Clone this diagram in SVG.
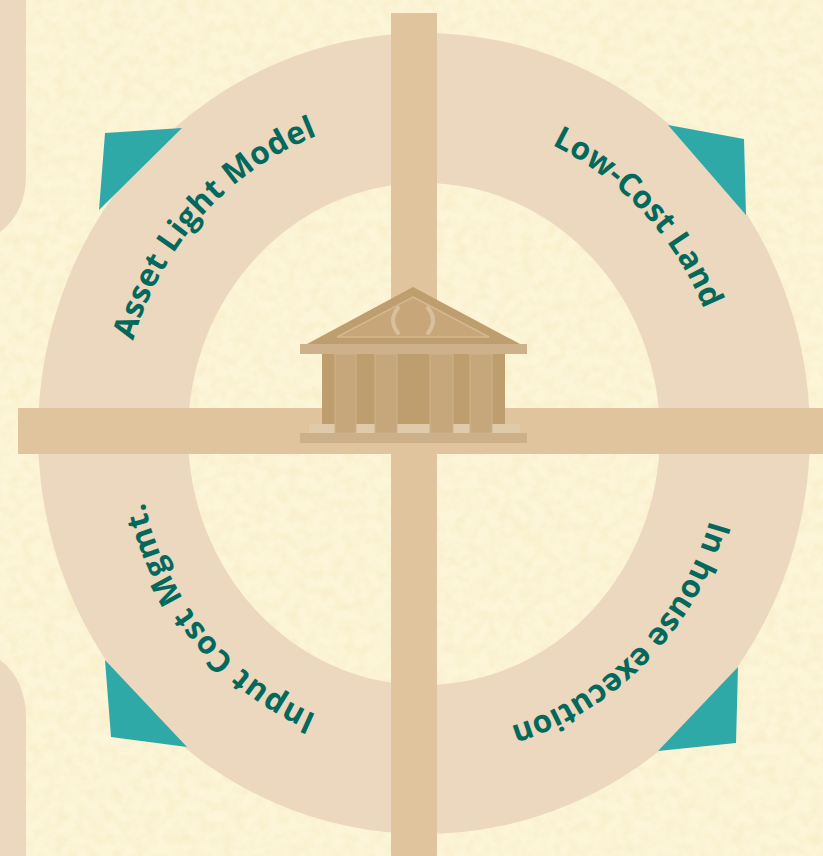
<svg xmlns="http://www.w3.org/2000/svg" width="823" height="856" viewBox="0 0 823 856">
<style>
.lbl{font-family:"Open Sans","Noto Sans","Liberation Sans",sans-serif;font-weight:700;font-size:31.5px;fill:#03695d}
.bar{fill:#e0c49d}
.tri{fill:#2fa9a8}
.blk{fill:#ecd8be}
.col{fill:#c6a67b}
.wall{fill:#be9d6e}
.light{fill:#cdb18b}
.step{fill:#dfcaa9}
</style>
<defs>
<filter id="paper" x="0" y="0" width="100%" height="100%" color-interpolation-filters="sRGB">
<feTurbulence type="fractalNoise" baseFrequency="0.09" numOctaves="4" seed="7"/>
<feColorMatrix type="matrix" values="0 0 0 0 0.97  0 0 0 0 0.92  0 0 0 0 0.76  1.2 0 0 0 -0.42"/>
</filter>
<path id="arcTL" d="M 120 433.5 A 304 318 0 0 1 424 115.5"/>
<path id="arcTR" d="M 424 115.5 A 304 318 0 0 1 728 433.5"/>
<path id="arcBR" d="M 722 433.5 A 298 306 0 0 1 424 739.5"/>
<path id="arcBL" d="M 424 736.5 A 287 303 0 0 1 137 433.5"/>
</defs>
<rect width="823" height="856" fill="#fcf5d8"/>
<rect width="823" height="856" filter="url(#paper)"/>
<g id="side-shapes">
<path class="blk" d="M0 0H26V175Q26 212 0 232Z"/>
<path class="blk" d="M0 660Q26 680 26 718V856H0Z"/>
</g>
<path id="ring" class="blk" fill-rule="evenodd" d="M38 433.5A386 400.5 0 1 1 810 433.5A386 400.5 0 1 1 38 433.5ZM188 434A236 251 0 1 0 660 434A236 251 0 1 0 188 434Z"/>
<g id="triangles">
<polygon class="tri" points="105,133 182,128 99,210"/>
<polygon class="tri" points="668,125 744,139 746,215"/>
<polygon class="tri" points="738,667 736,743 658,751"/>
<polygon class="tri" points="105,660 111,737 187,747"/>
</g>
<g id="bars">
<rect class="bar" x="391" y="13" width="46" height="843"/>
<rect class="bar" x="18" y="408" width="805" height="46"/>
</g>
<g id="labels">
<text class="lbl" letter-spacing="0.4"><textPath href="#arcTL" startOffset="48.5%" text-anchor="middle">Asset Light Model</textPath></text>
<text class="lbl"><textPath href="#arcTR" startOffset="50.5%" text-anchor="middle">Low-Cost Land</textPath></text>
<text class="lbl"><textPath href="#arcBR" startOffset="50%" text-anchor="middle">In house execution</textPath></text>
<text class="lbl" letter-spacing="0.8"><textPath href="#arcBL" startOffset="54.5%" text-anchor="middle">Input Cost Mgmt.</textPath></text>
</g>
<g id="temple">
<rect class="wall" x="322" y="354" width="183" height="71"/>
<rect class="step" x="309" y="424" width="211" height="10"/>
<rect x="300" y="433" width="227" height="10" fill="#cbb08a"/>
<g stroke="#cfb38c" stroke-width="1">
<rect class="col" x="335" y="354" width="21" height="79"/>
<rect class="col" x="375" y="354" width="22" height="79"/>
<rect class="col" x="430" y="354" width="23" height="79"/>
<rect class="col" x="470" y="354" width="22" height="79"/>
</g>
<polygon class="wall" points="413,287 520,344 307,344"/>
<rect class="light" x="300" y="344" width="227" height="10"/>
<polygon points="413,297 489,337 337,337" fill="#c7a679" stroke="#d4b88f" stroke-width="1.5"/>
<path d="M398 308Q388 320 398 333M428 308Q438 320 428 333" fill="none" stroke="#d8c09d" stroke-width="4" stroke-linecap="round"/>
</g>
</svg>
